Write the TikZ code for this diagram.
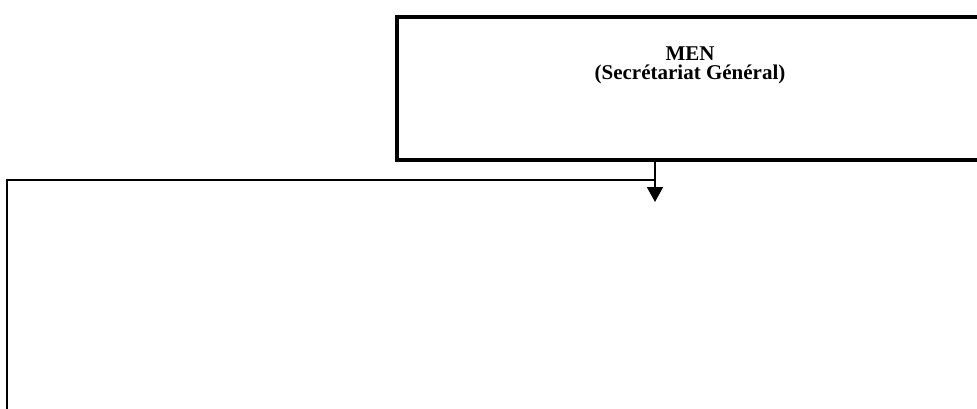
\documentclass[tikz,border=0pt]{standalone}
\usepackage{fontspec}
\setmainfont{Liberation Serif}
\usetikzlibrary{arrows.meta}
\begin{document}
\begin{tikzpicture}[x=1pt,y=-1pt,
  menbox/.style={draw, line width=4pt, minimum width=591pt, minimum height=143pt, anchor=north west, inner sep=0pt},
  title/.style={font=\fontsize{21pt}{19pt}\selectfont\bfseries, align=center, inner sep=0pt},
  conn/.style={line width=1.8pt}]
\useasboundingbox (0,0) rectangle (977,408);
\node[menbox] (men) at (394.5,15) {};
\node[title] (mentext) at (690,65) {MEN\\(Secrétariat Général)};
\coordinate (j) at (655,180);
\coordinate (tip) at (655,202);
\coordinate (l) at (7,180);
\coordinate (lb) at (7,420);
\draw[conn, -{Triangle[length=15pt,width=16pt]}] (j |- men.south) -- (tip);
\draw[conn] (j) -- (l) -- (lb);
\end{tikzpicture}
\end{document}
